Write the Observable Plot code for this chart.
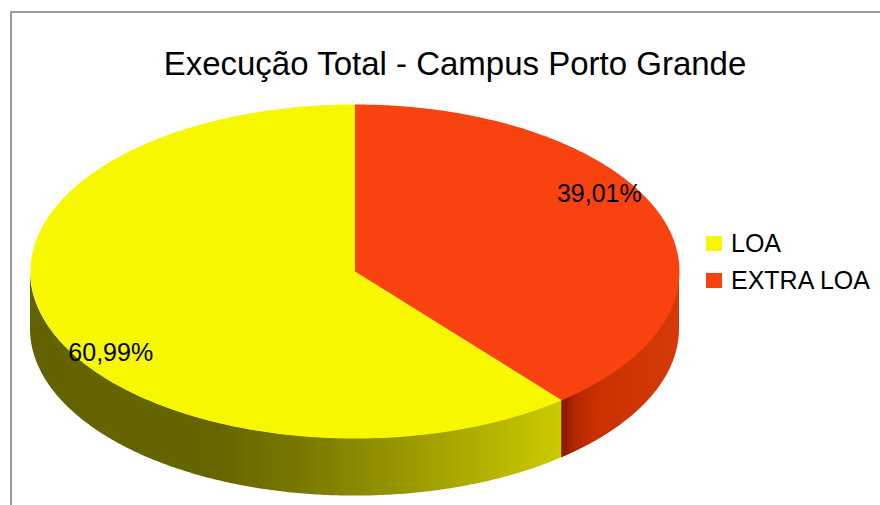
<!DOCTYPE html>
<html>
<head>
<meta charset="utf-8">
<script src="https://cdn.jsdelivr.net/npm/d3@7"></script>
<script src="https://cdn.jsdelivr.net/npm/@observablehq/plot@0.6"></script>
<style>
  html, body { margin: 0; padding: 0; background: #fff; }
  #wrap { position: relative; width: 880px; height: 505px; overflow: hidden; font-family: "Liberation Sans", Arial, sans-serif; }
  #frame { position: absolute; left: 10px; top: 11px; right: -5px; bottom: -5px; border-top: 2px solid #9a9a9a; border-left: 2px solid #9a9a9a; }
  #chart { position: absolute; left: 0; top: 0; }
  #title { position: absolute; left: 0; top: 47px; width: 910px; text-align: center; font-size: 33px; line-height: 33px; color: #000; white-space: nowrap; }
  #legend { position: absolute; left: 706px; top: 231px; }
  .item { position: relative; height: 37px; font-size: 25px; line-height: 25px; white-space: nowrap; }
  .sw { position: absolute; left: 0; top: 5px; width: 16px; height: 15px; }
  .lab { position: absolute; left: 25px; top: 0; color: #000; }
</style>
</head>
<body>
<div id="wrap">
  <div id="frame"></div>
  <div id="chart"></div>
  <div id="title"></div>
  <div id="legend"></div>
</div>
<script>
// ---- data ----
const chartTitle = "Execução Total - Campus Porto Grande";
const categories = ["LOA", "EXTRA LOA"];
const values = [60.99, 39.01];
const valueLabels = ["60,99%", "39,01%"];
const topColors = ["#f7f700", "#f8420f"];
// side shading gradients (pixel x, colour)
const sideStopsLOA = [[30, "#626200"], [220, "#666600"], [300, "#787800"], [430, "#a0a000"], [562, "#cbcb00"]];
const sideStopsEXTRA = [[563, "#8a1a00"], [576, "#b52800"], [600, "#cb3100"], [679, "#d63a0a"]];

// ---- geometry derived from the data ----
const depth = 0.345; // pie thickness in y units
const N = 240;
const slices = d3.pie().sort(null).value(d => d.value).startAngle(0).endAngle(-2 * Math.PI)(
  categories.map((c, i) => ({cat: c, value: values[i], label: valueLabels[i]}))
);
const ex = a => Math.sin(a);
const ey = a => -Math.cos(a);

const tops = [];
const sides = [[], []];
const labelPts = [];
slices.forEach((s, i) => {
  const cat = s.data.cat;
  tops.push({cat, x: 0, y: 0});
  for (let k = 0; k <= N; k++) {
    const a = s.startAngle + (s.endAngle - s.startAngle) * k / N;
    tops.push({cat, x: ex(a), y: ey(a)});
  }
  tops.push({cat, x: 0, y: 0});
  // clockwise positive interval
  let lo = 2 * Math.PI + s.endAngle, hi = 2 * Math.PI + s.startAngle;
  const flo = Math.max(lo, Math.PI / 2), fhi = Math.min(hi, 3 * Math.PI / 2);
  if (fhi > flo) {
    for (let k = 0; k <= N; k++) {
      const a = flo + (fhi - flo) * k / N;
      sides[i].push({x: ex(a), y: ey(a), y2: ey(a) + depth});
    }
  }
  const mid = (s.startAngle + s.endAngle) / 2;
  labelPts.push({label: s.data.label, x: 0.80 * ex(mid), y: 1.40 * ey(mid) + 0.012});
});

const chart = Plot.plot({
  width: 880,
  height: 505,
  margin: 0,
  style: {fontFamily: "Liberation Sans, Arial, sans-serif", background: "transparent", overflow: "visible"},
  x: {domain: [-1, 1], range: [30, 679], axis: null},
  y: {domain: [-1, 1], range: [104, 438], axis: null},
  color: {domain: categories, range: topColors},
  marks: [
    Plot.areaY(sides[0], {x: "x", y1: "y", y2: "y2", fill: "url(#side-0)", curve: "linear"}),
    Plot.areaY(sides[1], {x: "x", y1: "y", y2: "y2", fill: "url(#side-1)", curve: "linear"}),
    Plot.line(tops, {x: "x", y: "y", z: "cat", fill: "cat", stroke: "none", curve: "linear"}),
    Plot.text(labelPts, {x: "x", y: "y", text: "label", fontSize: 25, fill: "#000", textAnchor: "middle"})
  ]
});

// gradients for the side walls
const ns = "http://www.w3.org/2000/svg";
const defs = document.createElementNS(ns, "defs");
[sideStopsLOA, sideStopsEXTRA].forEach((stops, i) => {
  const g = document.createElementNS(ns, "linearGradient");
  g.setAttribute("id", "side-" + i);
  g.setAttribute("gradientUnits", "userSpaceOnUse");
  g.setAttribute("x1", stops[0][0]);
  g.setAttribute("x2", stops[stops.length - 1][0]);
  g.setAttribute("y1", 0);
  g.setAttribute("y2", 0);
  const x0 = stops[0][0], x1 = stops[stops.length - 1][0];
  stops.forEach(([px, col]) => {
    const st = document.createElementNS(ns, "stop");
    st.setAttribute("offset", (px - x0) / (x1 - x0));
    st.setAttribute("stop-color", col);
    g.appendChild(st);
  });
  defs.appendChild(g);
});
chart.insertBefore(defs, chart.firstChild);
document.getElementById("chart").appendChild(chart);

document.getElementById("title").textContent = chartTitle;
const legend = document.getElementById("legend");
categories.forEach((c, i) => {
  const it = document.createElement("div");
  it.className = "item";
  const sw = document.createElement("div");
  sw.className = "sw";
  sw.style.background = topColors[i];
  const lb = document.createElement("div");
  lb.className = "lab";
  lb.textContent = c;
  it.appendChild(sw);
  it.appendChild(lb);
  legend.appendChild(it);
});
</script>
</body>
</html>
